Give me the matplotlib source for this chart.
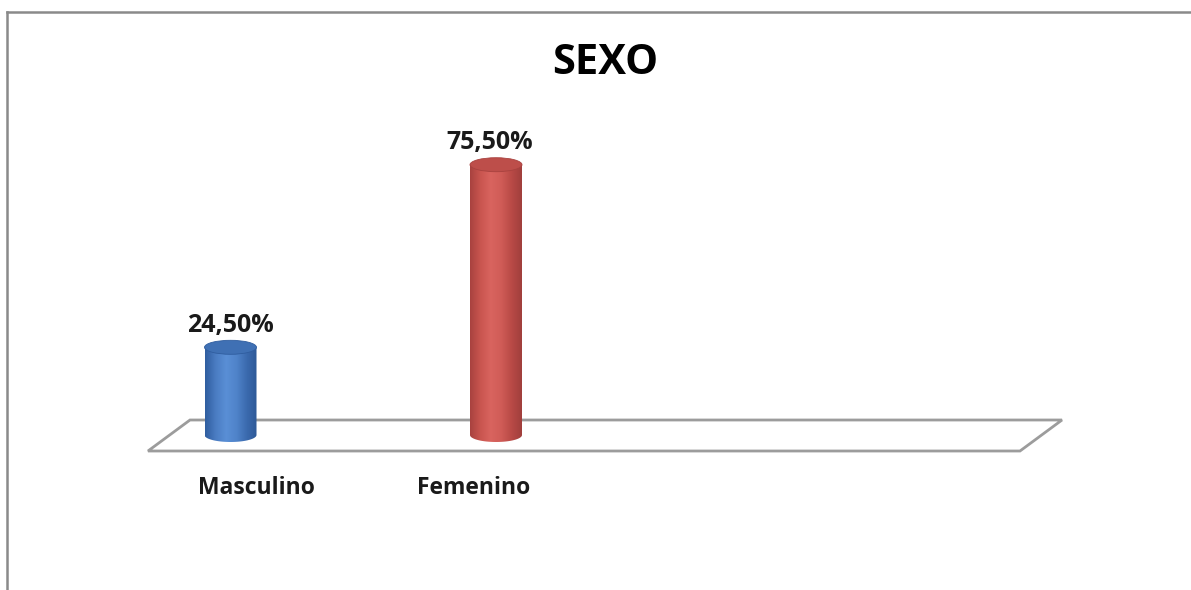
import numpy as np
import matplotlib
matplotlib.use("Agg")
import matplotlib.pyplot as plt
from matplotlib.patches import Ellipse, Polygon
from matplotlib.colors import LinearSegmentedColormap

# ---- data ----
categories = ["Masculino", "Femenino"]
values = [24.5, 75.5]
value_labels = ["24,50%", "75,50%"]
title = "SEXO"

# ---- layout / style ----
W, H, DPI = 1191, 590, 100
PX_PER_CAT = 265.5          # horizontal pixels per category
PX_PER_UNIT = 3.58          # vertical pixels per percent
X0_PX, Y0_PX = 230.5, 435   # pixel position of category 0 at value 0 (from top)
BAR_W_PX, ELL_H_PX = 52, 14
LABEL_DX_PX = [26, -22]
VALUE_DX_PX = [0, -6]
FONT = "Open Sans"

body_colors = [
    ["#2f5d9f", "#4a7cc2", "#5a8fd6", "#4f83c9", "#3a69ad", "#2c5795"],
    ["#a8423f", "#c9554f", "#d9645f", "#d05c57", "#b94a46", "#a03f3c"],
]
top_colors = ["#3f70b4", "#bd4e4a"]

fig = plt.figure(figsize=(W / DPI, H / DPI), dpi=DPI)
ax = fig.add_axes([0, 0, 1, 1])
# map pixels -> data via limits
ax.set_xlim(-X0_PX / PX_PER_CAT, (W - X0_PX) / PX_PER_CAT)
ax.set_ylim(-(H - Y0_PX) / PX_PER_UNIT, Y0_PX / PX_PER_UNIT)
ax.axis("off")

def px_x(dx):
    return dx / PX_PER_CAT

def px_y(dy):
    return dy / PX_PER_UNIT

# border (top and left)
fig.add_artist(plt.Line2D([7 / W, 1.0], [1 - 12 / H, 1 - 12 / H], color="#8a8a8a", lw=1.8))
fig.add_artist(plt.Line2D([7 / W, 7 / W], [1 - 12 / H, 0], color="#8a8a8a", lw=1.8))

# floor parallelogram
back_y, front_y = px_y(15), px_y(-16)
floor = Polygon([[px_x(190 - X0_PX), back_y], [px_x(1062 - X0_PX), back_y],
                 [px_x(1020 - X0_PX), front_y], [px_x(148 - X0_PX), front_y]],
                closed=True, fill=False, edgecolor="#9c9c9c", lw=2, zorder=1)
ax.add_patch(floor)

bw = px_x(BAR_W_PX)
eh = px_y(ELL_H_PX)
for i, (v, lab) in enumerate(zip(values, value_labels)):
    xc = i
    # cylinder body outline
    t = np.linspace(np.pi, 2 * np.pi, 60)
    bottom = np.column_stack([xc + bw / 2 * np.cos(t), eh / 2 * np.sin(t)])
    pts = np.vstack([[[xc - bw / 2, v]], bottom, [[xc + bw / 2, v]]])
    clip = Polygon(pts, closed=True, facecolor="none", edgecolor="none", zorder=2)
    ax.add_patch(clip)
    cmap = LinearSegmentedColormap.from_list("c%d" % i, body_colors[i])
    grad = np.linspace(0, 1, 256).reshape(1, -1)
    im = ax.imshow(grad, cmap=cmap, aspect="auto",
                   extent=[xc - bw / 2, xc + bw / 2, -eh / 2, v], zorder=2,
                   interpolation="bilinear")
    im.set_clip_path(clip)
    top = Ellipse((xc, v), bw, eh, facecolor=top_colors[i],
                  edgecolor=body_colors[i][0], lw=0.6, zorder=3)
    ax.add_patch(top)
    ax.text(xc + px_x(VALUE_DX_PX[i]), v + px_y(22), lab, ha="center", va="center",
            fontsize=18, fontweight="bold", family=FONT, color="#1a1a1a", zorder=4)
    ax.text(xc + px_x(LABEL_DX_PX[i]), px_y(-53), categories[i], ha="center",
            va="center", fontsize=16.5, fontweight="bold", family=FONT,
            color="#1a1a1a", zorder=4)

fig.text(605 / W, 1 - 64 / H, title, ha="center", va="center", fontsize=30,
         fontweight="bold", family=FONT, color="#000000")

fig.savefig("out.png", dpi=DPI, facecolor="white")
